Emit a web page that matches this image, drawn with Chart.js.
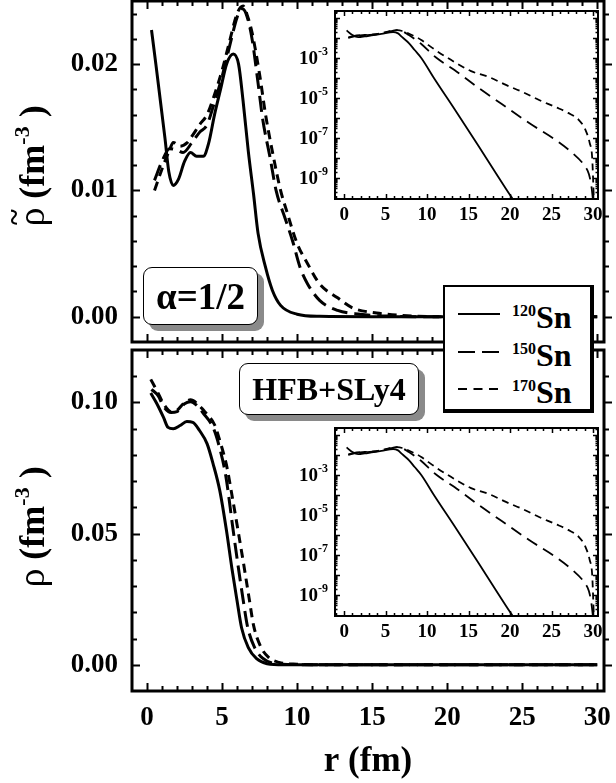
<!DOCTYPE html>
<html><head><meta charset="utf-8">
<script src="https://cdn.jsdelivr.net/npm/chart.js@4.4.1/dist/chart.umd.min.js"></script>
<style>
html,body{margin:0;padding:0;background:#fff;}
#wrap{position:relative;width:616px;height:783px;overflow:hidden;background:#fff;}
canvas{position:absolute;}
.lbl{position:absolute;background:#fff;border:1.5px solid #000;border-radius:9px;box-shadow:6px 6px 0 #8a8a8a;font-family:'Liberation Serif',serif;font-weight:bold;color:#000;display:flex;align-items:center;justify-content:center;box-sizing:border-box;}
#legend{position:absolute;left:443px;top:285px;width:151px;height:128px;background:#fff;border:2px solid #000;border-right-width:4px;border-bottom-width:4px;box-sizing:border-box;font-family:'Liberation Serif',serif;font-weight:bold;color:#000;}
#legend svg{position:absolute;left:13px;}
#legend .t{position:absolute;left:67px;font-size:32px;line-height:32px;white-space:nowrap;}
#legend .t span{font-size:16px;vertical-align:12px;}
</style></head>
<body>
<div id="wrap">
<canvas id="cTop" width="616" height="345" style="left:0;top:0"></canvas>
<canvas id="cBot" width="616" height="440" style="left:0;top:343px"></canvas>
<canvas id="iTop" width="320" height="235" style="left:290px;top:0"></canvas>
<canvas id="iBot" width="320" height="235" style="left:290px;top:417px"></canvas>
<div class="lbl" style="left:143px;top:267px;width:115px;height:58px;font-size:37px;">α=1/2</div>
<div class="lbl" style="left:239px;top:363px;width:180px;height:52px;font-size:32px;">HFB+SLy4</div>
<div id="legend">
  <svg style="top:24px" width="42" height="6"><line x1="0" y1="3" x2="42" y2="3" stroke="#000" stroke-width="2"/></svg>
  <div class="t" style="top:8px"><span>120</span>Sn</div>
  <svg style="top:62px" width="42" height="6"><line x1="0" y1="3" x2="42" y2="3" stroke="#000" stroke-width="2" stroke-dasharray="17 7"/></svg>
  <div class="t" style="top:46px"><span>150</span>Sn</div>
  <svg style="top:99px" width="42" height="6"><line x1="0" y1="3" x2="42" y2="3" stroke="#000" stroke-width="2" stroke-dasharray="9 6.5"/></svg>
  <div class="t" style="top:83px"><span>170</span>Sn</div>
</div>
</div>
<script>
// ---------------- DATA ----------------
const SERIES_NAMES = ['120Sn', '150Sn', '170Sn'];

// Upper panel: rho-tilde (alpha = 1/2), fm^-3
const R120_TOP = [0.3, 0.6, 0.9, 1.2, 1.45, 1.75, 2.1, 2.5, 2.9, 3.3, 3.75, 4.1, 4.5, 4.9, 5.3, 5.75, 6.1, 6.4, 6.75, 7.1, 7.4, 7.9, 8.35, 8.9, 10, 11.5, 15, 20, 25, 30];
const V120_TOP = [0.0227, 0.0199, 0.0170, 0.0141, 0.0115, 0.0104, 0.0109, 0.0123, 0.0130, 0.0127, 0.0127, 0.0137, 0.0160, 0.0180, 0.0200, 0.0208, 0.0200, 0.0171, 0.0131, 0.0097, 0.0066, 0.0039, 0.0021, 0.0009, 0.0002, 0.00003, 0, 0, 0, 0];
const R150_TOP = [0.5, 1.0, 1.5, 2.0, 2.4, 3.0, 3.5, 4.0, 4.5, 5.0, 5.5, 6.0, 6.3, 6.6, 7.0, 7.4, 7.7, 8.2, 8.6, 9.2, 9.7, 10.2, 10.7, 11.5, 12.7, 14.2, 16, 20, 25, 30];
const V150_TOP = [0.0108, 0.0123, 0.0133, 0.0132, 0.0130, 0.0138, 0.0146, 0.0152, 0.0170, 0.0190, 0.0214, 0.0237, 0.0244, 0.0240, 0.0220, 0.0185, 0.0157, 0.0126, 0.0100, 0.0078, 0.0060, 0.0039, 0.0026, 0.0013, 0.0005, 0.0002, 0.00005, 0, 0, 0];
const R170_TOP = [0.5, 1.0, 1.5, 1.75, 2.2, 2.7, 3.0, 3.5, 4.0, 4.5, 5.0, 5.5, 6.0, 6.4, 6.7, 7.0, 7.5, 7.9, 8.4, 8.9, 9.3, 10, 10.7, 11.5, 12.7, 13.7, 15.3, 17, 20, 25, 30];
const V170_TOP = [0.0100, 0.0117, 0.0132, 0.0138, 0.0135, 0.0138, 0.0143, 0.0152, 0.0160, 0.0176, 0.0195, 0.0218, 0.0240, 0.0246, 0.0238, 0.0225, 0.0192, 0.0160, 0.0128, 0.0100, 0.0084, 0.0058, 0.0042, 0.0026, 0.0015, 0.0007, 0.0003, 0.0001, 0, 0, 0];

// Lower panel: rho (HFB+SLy4), fm^-3
const R120_BOT = [0.25, 0.65, 1.1, 1.4, 1.75, 2.2, 2.65, 3.05, 3.5, 4.0, 4.4, 4.85, 5.3, 5.65, 6.0, 6.3, 6.75, 7.3, 8.0, 9.1, 12, 20, 30];
const V120_BOT = [0.1036, 0.0996, 0.0943, 0.0905, 0.0900, 0.0912, 0.0927, 0.0924, 0.0893, 0.0843, 0.0767, 0.0664, 0.0510, 0.0370, 0.0244, 0.0141, 0.0065, 0.0023, 0.0004, 0.0000, 0, 0, 0];
const R150_BOT = [0.3, 0.75, 1.1, 1.6, 2.0, 2.5, 2.9, 3.3, 3.8, 4.4, 4.8, 5.25, 5.7, 6.05, 6.4, 6.7, 7.15, 7.7, 8.4, 9.5, 12, 20, 30];
const V150_BOT = [0.1050, 0.1025, 0.0985, 0.0962, 0.0965, 0.0995, 0.1003, 0.0990, 0.0955, 0.0905, 0.0835, 0.0720, 0.0530, 0.0385, 0.0250, 0.0145, 0.0068, 0.0025, 0.0006, 0.0001, 0, 0, 0];
const R170_BOT = [0.25, 0.7, 1.1, 1.6, 2.0, 2.5, 2.9, 3.3, 3.8, 4.0, 4.5, 4.9, 5.3, 5.65, 6.1, 6.45, 6.8, 7.1, 7.55, 8.1, 8.8, 10, 12, 20, 30];
const V170_BOT = [0.1088, 0.1040, 0.0995, 0.0965, 0.0970, 0.1000, 0.1010, 0.0998, 0.0968, 0.0955, 0.0915, 0.0845, 0.0760, 0.0650, 0.0500, 0.0380, 0.0255, 0.0150, 0.0072, 0.0028, 0.0009, 0.0002, 0, 0, 0];

// Insets (log scale), same curves in both panels
const R120_LOG = [0.3, 1.0, 1.7, 2.5, 3.3, 4.5, 5.9, 6.5, 7.0, 7.8, 8.5, 9.3, 10.9, 13.3, 16.2, 18.2, 20.0, 20.4];
const V120_LOG = [2.4e-2, 1.4e-2, 1.1e-2, 1.2e-2, 1.35e-2, 1.6e-2, 2.0e-2, 1.7e-2, 1.1e-2, 5.6e-3, 2.5e-3, 1.0e-3, 8.9e-5, 2.8e-6, 4.0e-8, 2.0e-9, 1.4e-10, 8e-11];
const R150_LOG = [0.5, 1.5, 2.5, 3.5, 4.5, 5.5, 6.3, 7.0, 7.8, 8.5, 9.3, 11.0, 13.3, 16.2, 19.0, 22.3, 25.5, 27.5, 29.0, 29.5, 29.8, 30.0];
const V150_LOG = [1.07e-2, 1.35e-2, 1.38e-2, 1.48e-2, 1.7e-2, 2.14e-2, 2.45e-2, 2.2e-2, 1.4e-2, 8.9e-3, 5.0e-3, 1.12e-3, 2.5e-4, 3.2e-5, 5.0e-6, 5.6e-7, 7.9e-8, 1.8e-8, 4.0e-9, 1.6e-9, 4.0e-10, 8e-11];
const R170_LOG = [0.5, 1.5, 2.5, 3.5, 4.5, 5.5, 6.4, 7.0, 7.9, 8.9, 9.3, 11.0, 13.3, 15.3, 17.5, 19.5, 21.5, 23.5, 25.5, 27.0, 28.3, 29.1, 29.6, 29.9, 30.1];
const V170_LOG = [1.0e-2, 1.29e-2, 1.41e-2, 1.51e-2, 1.74e-2, 2.19e-2, 2.45e-2, 2.24e-2, 1.58e-2, 1.0e-2, 7.9e-3, 2.5e-3, 6.3e-4, 2.2e-4, 1.1e-4, 4.5e-5, 2.0e-5, 7.9e-6, 3.5e-6, 1.8e-6, 7.9e-7, 2.5e-7, 5.6e-8, 1.0e-8, 8e-11];

// Tick labels
const X_TICKS = [0, 5, 10, 15, 20, 25, 30];
const Y_TICKS_TOP = [0, 0.01, 0.02];
const Y_TICKS_BOT = [0, 0.05, 0.10];
const INSET_X_TICKS = [0, 5, 10, 15, 20, 25, 30];
const INSET_Y_LABEL_EXP = [-3, -5, -7, -9];
const INSET_DECADES = [-10, -9, -8, -7, -6, -5, -4, -3, -2, -1];

// ---------------- STYLE / HELPERS ----------------
const FONT = "'Liberation Serif', 'Times New Roman', serif";
const DASHES = [[], [16, 7], [9, 6]];
const DASHES_INSET = [[], [12, 7], [7, 5]];
const pts = (xs, ys) => xs.map((x, i) => ({x: x, y: ys[i]}));
const noPad = s => { s.paddingTop = 0; s.paddingBottom = 0; s.paddingLeft = 0; s.paddingRight = 0; };

function mkDatasets(list, width, dashes) {
  return list.map((d, i) => ({
    label: SERIES_NAMES[i], data: pts(d[0], d[1]),
    borderColor: '#000', backgroundColor: '#000', borderWidth: width,
    borderDash: dashes[i], pointRadius: 0, fill: false,
    cubicInterpolationMode: 'monotone', borderJoinStyle: 'round'
  }));
}

function drawRotTitle(ctx, cx, cy, parts) {
  ctx.save();
  ctx.translate(cx, cy); ctx.rotate(-Math.PI / 2);
  ctx.textBaseline = 'alphabetic'; ctx.textAlign = 'left'; ctx.fillStyle = '#000';
  let tot = 0;
  parts.forEach(p => { ctx.font = p.font; p.w = ctx.measureText(p.t).width; tot += p.w; });
  let x = -tot / 2;
  parts.forEach(p => {
    ctx.font = p.font; ctx.fillText(p.t, x, p.dy || 0);
    if (p.tilde) { ctx.font = "bold 30px " + FONT; ctx.textAlign = 'center'; ctx.fillText('~', x + p.w / 2, -20); ctx.textAlign = 'left'; }
    x += p.w;
  });
  ctx.restore();
}

const mainFrame = {
  id: 'mainFrame',
  afterDraw(chart, args, o) {
    const {ctx, chartArea: a, scales: {x, y}} = chart;
    ctx.save();
    ctx.strokeStyle = '#000'; ctx.lineCap = 'butt';
    ctx.lineWidth = 2;
    for (let v = -1; v <= 30; v++) {
      const px = Math.round(x.getPixelForValue(v)) + 0.5;
      if (px < a.left + 2 || px > a.right - 2) continue;
      const L = (v % 5 === 0) ? 8 : 5;
      ctx.beginPath();
      ctx.moveTo(px, a.bottom); ctx.lineTo(px, a.bottom - L);
      ctx.moveTo(px, a.top); ctx.lineTo(px, a.top + L);
      ctx.stroke();
    }
    for (let k = 0; k <= 200; k++) {
      const v = o.yMin + k * o.yMinor;
      if (v > o.yMax + 1e-9) break;
      const py = Math.round(y.getPixelForValue(v)) + 0.5;
      if (py < a.top + 2 || py > a.bottom - 2) continue;
      const isMaj = o.yMajor.some(m => Math.abs(m - v) < 1e-9);
      const L = isMaj ? 8 : 5;
      ctx.beginPath();
      ctx.moveTo(a.left, py); ctx.lineTo(a.left + L, py);
      ctx.moveTo(a.right, py); ctx.lineTo(a.right + L, py);
      ctx.stroke();
    }
    ctx.lineWidth = 3;
    ctx.strokeRect(a.left, a.top, a.right - a.left, a.bottom - a.top);
    ctx.restore();
    drawRotTitle(ctx, o.titleX, o.titleY, o.title);
  }
};

const insetFrame = {
  id: 'insetFrame',
  afterDraw(chart) {
    const {ctx, chartArea: a, scales: {x, y}} = chart;
    ctx.save();
    ctx.strokeStyle = '#000'; ctx.lineWidth = 1.5;
    for (let v = -1; v <= 30; v++) {
      const px = Math.round(x.getPixelForValue(v)) + 0.5;
      if (px < a.left + 1 || px > a.right - 1) continue;
      const L = (v % 5 === 0) ? 5 : 3;
      ctx.beginPath();
      ctx.moveTo(px, a.bottom); ctx.lineTo(px, a.bottom - L);
      ctx.moveTo(px, a.top); ctx.lineTo(px, a.top + L);
      ctx.stroke();
    }
    INSET_DECADES.forEach(e => {
      for (let m = 1; m <= 9; m++) {
        const v = m * Math.pow(10, e);
        const py = Math.round(y.getPixelForValue(v)) + 0.5;
        if (py < a.top + 1 || py > a.bottom - 1) continue;
        const L = m === 1 ? 5 : 2.5;
        ctx.beginPath();
        ctx.moveTo(a.left, py); ctx.lineTo(a.left + L, py);
        ctx.moveTo(a.right, py); ctx.lineTo(a.right - L, py);
        ctx.stroke();
      }
    });
    ctx.lineWidth = 2;
    ctx.strokeRect(a.left, a.top, a.right - a.left, a.bottom - a.top);
    // y tick labels 10^n
    ctx.fillStyle = '#000'; ctx.textBaseline = 'middle'; ctx.textAlign = 'left';
    INSET_Y_LABEL_EXP.forEach(e => {
      const py = y.getPixelForValue(Math.pow(10, e));
      ctx.font = "bold 19px " + FONT; const w1 = ctx.measureText('10').width;
      ctx.font = "bold 12px " + FONT; const sup = String(e); const w2 = ctx.measureText(sup).width;
      const right = a.left - 7;
      ctx.font = "bold 19px " + FONT; ctx.fillText('10', right - w2 - w1, py + 1);
      ctx.font = "bold 12px " + FONT; ctx.fillText(sup, right - w2, py - 6);
    });
    ctx.restore();
  }
};

const commonOpts = {
  responsive: false, animation: false, devicePixelRatio: 1,
  plugins: {legend: {display: false}, tooltip: {enabled: false}, title: {display: false}},
  elements: {line: {tension: 0.4}}
};

// ---------------- MAIN CHARTS ----------------
new Chart(document.getElementById('cTop'), {
  type: 'line',
  data: {datasets: mkDatasets([[R120_TOP, V120_TOP], [R150_TOP, V150_TOP], [R170_TOP, V170_TOP]], 3, DASHES)},
  options: Object.assign({}, commonOpts, {
    layout: {padding: {left: 0, right: 12, top: 1, bottom: 2}},
    plugins: Object.assign({}, commonOpts.plugins, {
      mainFrame: {yMin: -0.002, yMax: 0.025, yMinor: 0.002, yMajor: Y_TICKS_TOP, titleX: 44, titleY: 166,
        title: [{t: 'ρ', font: "38px " + FONT, tilde: true}, {t: ' (fm', font: "bold 36px " + FONT}, {t: '-3', font: "bold 22px " + FONT, dy: -15}, {t: ' )', font: "bold 36px " + FONT}]}
    }),
    scales: {
      x: {type: 'linear', min: -1, max: 30.45, grid: {display: false, drawTicks: false}, border: {display: false}, ticks: {display: false}, afterFit: s => { s.height = 1; noPad(s); }},
      y: {type: 'linear', min: -0.002, max: 0.025, grid: {display: false, drawTicks: false}, border: {display: false},
        ticks: {padding: 14, color: '#000', font: {family: FONT, weight: 'bold', size: 27}, callback: v => Number(v).toFixed(2)},
        afterBuildTicks: s => { s.ticks = Y_TICKS_TOP.map(v => ({value: v})); },
        afterFit: s => { s.width = 132; noPad(s); }}
    }
  }),
  plugins: [mainFrame]
});

new Chart(document.getElementById('cBot'), {
  type: 'line',
  data: {datasets: mkDatasets([[R120_BOT, V120_BOT], [R150_BOT, V150_BOT], [R170_BOT, V170_BOT]], 3, DASHES)},
  options: Object.assign({}, commonOpts, {
    layout: {padding: {left: 0, right: 12, top: 7, bottom: 0}},
    plugins: Object.assign({}, commonOpts.plugins, {
      mainFrame: {yMin: -0.01, yMax: 0.12, yMinor: 0.01, yMajor: Y_TICKS_BOT, titleX: 44, titleY: 184,
        title: [{t: 'ρ', font: "38px " + FONT}, {t: ' (fm', font: "bold 36px " + FONT}, {t: '-3', font: "bold 22px " + FONT, dy: -15}, {t: ' )', font: "bold 36px " + FONT}]}
    }),
    scales: {
      x: {type: 'linear', min: -1, max: 30.45, grid: {display: false, drawTicks: false}, border: {display: false},
        ticks: {padding: 11, color: '#000', maxRotation: 0, autoSkip: false, font: {family: FONT, weight: 'bold', size: 27}},
        afterBuildTicks: s => { s.ticks = X_TICKS.map(v => ({value: v})); },
        title: {display: true, text: 'r (fm)', color: '#000', font: {family: FONT, weight: 'bold', size: 35}, padding: {top: 0, bottom: 0}},
        afterFit: s => { s.height = 92; noPad(s); }},
      y: {type: 'linear', min: -0.01, max: 0.12, grid: {display: false, drawTicks: false}, border: {display: false},
        ticks: {padding: 14, color: '#000', font: {family: FONT, weight: 'bold', size: 27}, callback: v => Number(v).toFixed(2)},
        afterBuildTicks: s => { s.ticks = Y_TICKS_BOT.map(v => ({value: v})); },
        afterFit: s => { s.width = 132; noPad(s); }}
    }
  }),
  plugins: [mainFrame]
});

// ---------------- INSETS ----------------
function inset(id) {
  new Chart(document.getElementById(id), {
    type: 'line',
    data: {datasets: mkDatasets([[R120_LOG, V120_LOG], [R150_LOG, V150_LOG], [R170_LOG, V170_LOG]], 1.8, DASHES_INSET)},
    options: Object.assign({}, commonOpts, {
      layout: {padding: {left: 0, right: 12, top: 11, bottom: 0}},
      scales: {
        x: {type: 'linear', min: -1.1, max: 30.6, grid: {display: false, drawTicks: false}, border: {display: false},
          ticks: {padding: 5, color: '#000', maxRotation: 0, autoSkip: false, font: {family: FONT, weight: 'bold', size: 19}},
          afterBuildTicks: s => { s.ticks = INSET_X_TICKS.map(v => ({value: v})); },
          afterFit: s => { s.height = 36; noPad(s); }},
        y: {type: 'logarithmic', min: 8.9e-11, max: 0.224, grid: {display: false, drawTicks: false}, border: {display: false},
          ticks: {display: false},
          afterBuildTicks: s => { s.ticks = INSET_DECADES.map(e => ({value: Math.pow(10, e)})); },
          afterFit: s => { s.width = 45; noPad(s); }}
      }
    }),
    plugins: [insetFrame]
  });
}
inset('iTop');
inset('iBot');
</script>
</body></html>
